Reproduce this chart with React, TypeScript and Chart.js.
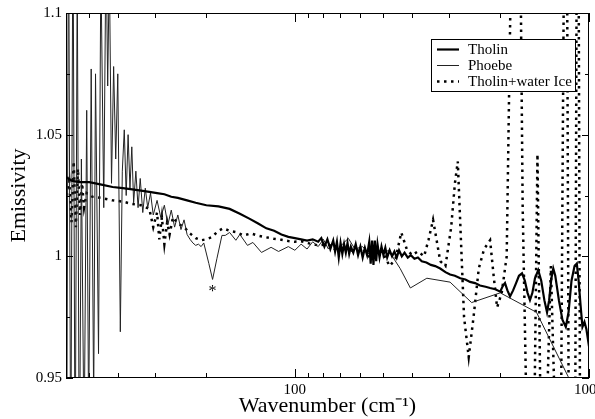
import React, { useEffect, useRef } from 'react';
import { Chart, registerables } from 'chart.js';

Chart.register(...registerables);

const seriesNames = ['Tholin', 'Phoebe', 'Tholin+water Ice'];

const tholinX = [16.7, 17.5, 18.5, 20, 22, 24, 26, 28, 30, 32, 34, 36, 38, 40, 43, 46, 50, 55, 60, 65, 70, 75, 80, 85, 90, 95, 100, 105, 110, 115, 120, 123, 126, 129, 132, 135, 137, 139, 141, 143, 145, 147, 149, 151, 153, 155, 158, 161, 164, 167, 170, 173, 176, 179, 181, 183, 185, 187, 189, 191, 194, 197, 200, 203, 206, 210, 214, 218, 222, 226, 231, 236, 242, 248, 255, 262, 270, 280, 290, 300, 312, 325, 337, 350, 365, 380, 394, 410, 426, 445, 461, 480, 499, 510, 518, 528, 539, 552, 565, 578, 592, 605, 618, 630, 642, 655, 672, 688, 705, 720, 732, 745, 756, 768, 790, 812, 834, 852, 872, 893, 909, 922, 936, 950, 965, 980, 1000];
const tholinY = [1.0325, 1.031, 1.0305, 1.0305, 1.0295, 1.0285, 1.028, 1.0275, 1.027, 1.0265, 1.026, 1.0255, 1.0245, 1.024, 1.023, 1.022, 1.021, 1.0205, 1.0195, 1.0175, 1.0155, 1.0135, 1.0115, 1.0105, 1.009, 1.008, 1.0075, 1.007, 1.0065, 1.007, 1.006, 1.0075, 1.004, 1.007, 1.003, 1.0065, 1.002, 1.006, 0.9995, 1.0055, 1.001, 1.005, 1.0015, 1.0055, 1.001, 1.004, 1.0015, 1.005, 1.0005, 1.004, 0.9995, 1.0035, 1.0005, 1.006, 0.997, 1.0065, 0.9965, 1.0065, 0.998, 1.005, 0.9995, 1.004, 1.0005, 1.0035, 0.9995, 1.0025, 1.0, 1.002, 0.9995, 1.0025, 1.0, 1.0015, 0.9995, 1.0005, 0.999, 0.9995, 0.998, 0.9975, 0.9965, 0.996, 0.995, 0.9935, 0.9925, 0.992, 0.991, 0.9905, 0.9895, 0.989, 0.988, 0.9875, 0.987, 0.9865, 0.9855, 0.988, 0.989, 0.986, 0.9835, 0.986, 0.989, 0.992, 0.993, 0.99, 0.985, 0.982, 0.985, 0.991, 0.9943, 0.99, 0.982, 0.977, 0.982, 0.991, 0.995, 0.992, 0.982, 0.974, 0.971, 0.977, 0.99, 0.996, 0.997, 0.99, 0.98, 0.971, 0.973, 0.97, 0.963];

const phoebeX = [16.75, 17.0, 17.3, 17.6, 17.9, 18.2, 18.5, 18.8, 19.2, 19.6, 19.9, 20.3, 20.7, 21.0, 21.5, 21.9, 22.4, 22.8, 23.1, 23.4, 23.8, 24.2, 24.6, 25.0, 25.5, 25.9, 26.3, 26.7, 27.1, 27.5, 27.9, 28.3, 28.8, 29.3, 29.8, 30.4, 31.0, 31.6, 32.3, 33, 34, 35, 36, 37, 38, 39, 40, 41, 42, 43, 44, 45, 46, 47, 48, 49, 51, 52.5, 54.3, 56.5, 58, 60, 63, 65, 69, 72, 77, 83, 88, 95, 100, 105, 110, 115, 120, 125, 130, 135, 140, 145, 152, 160, 170, 180, 190, 200, 208, 228, 247, 281, 337, 399, 499, 663, 850, 900];
const phoebeY = [0.90, 1.15, 0.90, 1.15, 0.90, 1.12, 0.90, 1.04, 0.92, 1.06, 0.93, 1.077, 0.94, 1.075, 0.96, 1.12, 1.02, 1.13, 1.07, 1.12, 1.03, 1.078, 1.04, 1.075, 0.969, 1.035, 1.052, 1.025, 1.05, 1.028, 1.045, 1.022, 1.035, 1.02, 1.032, 1.018, 1.028, 1.02, 1.026, 1.017, 1.023, 1.016, 1.021, 1.013, 1.019, 1.012, 1.017, 1.011, 1.015, 1.009, 1.007, 1.0055, 1.0045, 1.005, 1.004, 1.0055, 0.997, 0.9905, 0.999, 1.0086, 1.0086, 1.0098, 1.0066, 1.009, 1.0045, 1.0057, 1.0016, 1.0037, 1.002, 1.004, 1.0025, 1.005, 1.003, 1.006, 1.004, 1.007, 1.003, 1.006, 1.002, 1.005, 1.0074, 1.003, 1.004, 1.0005, 1.003, 1.001, 1.0025, 0.995, 0.987, 0.991, 0.9894, 0.981, 0.985, 0.977, 0.9505, 0.935];

const iceX = [16.75, 17.1, 17.4, 17.7, 18.0, 18.3, 18.6, 18.9, 19.2, 19.6, 20.5, 22, 24, 26, 28, 30, 32, 33, 34, 34.6, 35.3, 36, 36.8, 37.5, 38.5, 40, 42, 44, 46, 48, 50, 52, 55, 57, 60, 63, 67, 71, 75, 80, 85, 90, 95, 100, 105, 110, 120, 130, 140, 150, 160, 170, 180, 190, 200, 210, 220, 230, 240, 250, 262, 275, 285, 295, 303, 312, 325, 340, 350, 358, 366, 376, 390, 405, 422, 440, 461, 474, 487, 505, 525, 540, 555, 580, 595, 610, 625, 650, 668, 685, 705, 742, 780, 800, 835, 855, 880, 895, 915, 935, 970, 1000];
const iceY = [1.025, 1.031, 1.014, 1.039, 1.012, 1.036, 1.017, 1.03, 1.02, 1.026, 1.0245, 1.024, 1.023, 1.0225, 1.0215, 1.021, 1.0195, 1.012, 1.018, 1.007, 1.016, 1.005, 1.014, 1.009, 1.016, 1.0135, 1.012, 1.0094, 1.0075, 1.0066, 1.007, 1.0078, 1.0105, 1.0115, 1.0105, 1.010, 1.0086, 1.0094, 1.0085, 1.0078, 1.0072, 1.0068, 1.0063, 1.006, 1.0062, 1.0055, 1.0045, 1.005, 1.002, 1.004, 1.0015, 1.003, 0.9995, 1.002, 1.001, 0.996, 0.999, 1.0098, 1.003, 1.0005, 1.002, 1.0, 1.007, 1.015, 1.007, 0.998, 0.996, 1.012, 1.03, 1.039, 1.01, 0.975, 0.9586, 0.975, 0.995, 1.003, 1.0066, 0.992, 0.979, 0.985, 1.0, 1.1, 1.2, 1.17, 1.02, 0.95, 0.9, 0.92, 1.042, 0.93, 0.9, 0.996, 0.9, 0.9, 1.25, 0.9, 0.88, 0.88, 1.25, 0.88, 0.9, 0.9];

const xMin = 100 / 6;
const xMax = 1000;
const xTickValues = [100 / 6, 20, 25, 100 / 3, 50, 100, 1000 / 9, 125, 1000 / 7, 1000 / 6, 200, 250, 1000 / 3, 500, 1000];
const xLabeledTicks = [100, 1000];
const yMin = 0.95;
const yMax = 1.1;
const yTickStep = 0.025;
const yLabelStep = 0.05;
const xTitle = 'Wavenumber (cm\u207B\u00B9)';
const yTitle = 'Emissivity';
const annotationText = '*';
const annotationX = 52.5;
const annotationY = 0.9855;

const FONT = '"Liberation Serif", "Times New Roman", Times, serif';

const toPoints = (xs: number[], ys: number[]) => xs.map((x, i) => ({ x, y: ys[i] }));
const isLabeledY = (v: number) => Math.abs(v / yLabelStep - Math.round(v / yLabelStep)) < 1e-6;

export default function App() {
  const ref = useRef<HTMLCanvasElement>(null);

  useEffect(() => {
    const canvas = ref.current;
    if (!canvas) return;

    const framePlugin = {
      id: 'frameAndLegend',
      afterDatasetsDraw(chart: any) {
        const { ctx, chartArea: a, scales } = chart;
        const xs = scales.x;
        const ys = scales.y;
        ctx.save();
        ctx.strokeStyle = '#000';
        ctx.lineWidth = 1;
        ctx.setLineDash([]);
        ctx.strokeRect(a.left + 0.5, a.top + 0.5, a.right - a.left - 1, a.bottom - a.top - 1);
        ctx.beginPath();
        for (const v of xTickValues) {
          const px = Math.round(xs.getPixelForValue(v)) + 0.5;
          const len = xLabeledTicks.some((t) => Math.abs(t - v) < 1e-6) ? 9 : 5;
          ctx.moveTo(px, a.bottom);
          ctx.lineTo(px, a.bottom - len);
          ctx.moveTo(px, a.top);
          ctx.lineTo(px, a.top + len);
        }
        for (const t of ys.ticks) {
          const py = Math.round(ys.getPixelForValue(t.value)) + 0.5;
          const len = isLabeledY(t.value) ? 7 : 4;
          ctx.moveTo(a.left, py);
          ctx.lineTo(a.left + len, py);
          ctx.moveTo(a.right, py);
          ctx.lineTo(a.right - len, py);
        }
        ctx.stroke();

        ctx.fillStyle = '#000';
        ctx.font = `16px ${FONT}`;
        ctx.textAlign = 'center';
        ctx.textBaseline = 'middle';
        ctx.fillText(annotationText, xs.getPixelForValue(annotationX), ys.getPixelForValue(annotationY));

        const bw = 144;
        const bh = 52;
        const bx = a.right - 14 - bw;
        const by = a.top + 26;
        ctx.fillStyle = '#fff';
        ctx.fillRect(bx, by, bw, bh);
        ctx.strokeStyle = '#000';
        ctx.lineWidth = 1;
        ctx.strokeRect(bx + 0.5, by + 0.5, bw, bh);
        ctx.font = `15px ${FONT}`;
        ctx.textAlign = 'left';
        chart.data.datasets.forEach((ds: any, i: number) => {
          const ry = by + 10.5 + i * 16;
          ctx.beginPath();
          ctx.strokeStyle = ds.borderColor;
          ctx.lineWidth = ds.borderWidth;
          ctx.setLineDash(ds.borderDash || []);
          ctx.moveTo(bx + 6, ry);
          ctx.lineTo(bx + 28, ry);
          ctx.stroke();
          ctx.setLineDash([]);
          ctx.fillStyle = '#000';
          ctx.fillText(ds.label, bx + 37, ry + 1);
        });
        ctx.restore();
      },
    };

    const chart = new Chart(canvas, {
      type: 'line',
      data: {
        datasets: [
          {
            label: seriesNames[0],
            data: toPoints(tholinX, tholinY),
            borderColor: '#000',
            borderWidth: 2.2,
            pointRadius: 0,
            tension: 0,
            fill: false,
          },
          {
            label: seriesNames[1],
            data: toPoints(phoebeX, phoebeY),
            borderColor: '#222',
            borderWidth: 1,
            pointRadius: 0,
            tension: 0,
            fill: false,
          },
          {
            label: seriesNames[2],
            data: toPoints(iceX, iceY),
            borderColor: '#000',
            borderWidth: 2.5,
            borderDash: [2.5, 4.5],
            pointRadius: 0,
            tension: 0,
            fill: false,
          },
        ],
      },
      options: {
        animation: false,
        responsive: false,
        parsing: false as any,
        normalized: true,
        layout: { padding: { top: 12, right: 31, bottom: 0, left: 0 } },
        plugins: { legend: { display: false }, tooltip: { enabled: false } },
        scales: {
          x: {
            type: 'logarithmic',
            min: xMin,
            max: xMax,
            bounds: 'data',
            afterBuildTicks: (s: any) => {
              s.ticks = xTickValues.map((v) => ({ value: v }));
            },
            afterFit: (s: any) => {
              s.height = 41;
            },
            grid: { display: false, drawTicks: false },
            border: { display: false },
            ticks: {
              autoSkip: false,
              maxRotation: 0,
              padding: 3,
              color: '#000',
              font: { family: FONT, size: 15 },
              callback: (v: any) => (xLabeledTicks.some((t) => Math.abs(t - Number(v)) < 1e-6) ? String(Math.round(Number(v))) : ''),
            },
            title: {
              display: true,
              text: xTitle,
              color: '#000',
              font: { family: FONT, size: 22 },
              padding: { top: 0, bottom: 0 },
            },
          },
          y: {
            type: 'linear',
            min: yMin,
            max: yMax,
            afterFit: (s: any) => {
              s.width = 66;
            },
            grid: { display: false, drawTicks: false },
            border: { display: false },
            ticks: {
              stepSize: yTickStep,
              autoSkip: false,
              padding: 4,
              color: '#000',
              font: { family: FONT, size: 15 },
              callback: (v: any) => (isLabeledY(Number(v)) ? String(Number(Number(v).toFixed(3))) : ''),
            },
            title: {
              display: true,
              text: yTitle,
              color: '#000',
              font: { family: FONT, size: 22 },
              padding: { top: 6, bottom: 0 },
            },
          },
        },
      } as any,
      plugins: [framePlugin],
    });

    return () => chart.destroy();
  }, []);

  return (
    <div style={{ position: 'absolute', left: 0, top: 0, width: 595, height: 419, overflow: 'hidden', background: '#fff' }}>
      <canvas ref={ref} width={620} height={419} style={{ display: 'block' }} />
    </div>
  );
}
